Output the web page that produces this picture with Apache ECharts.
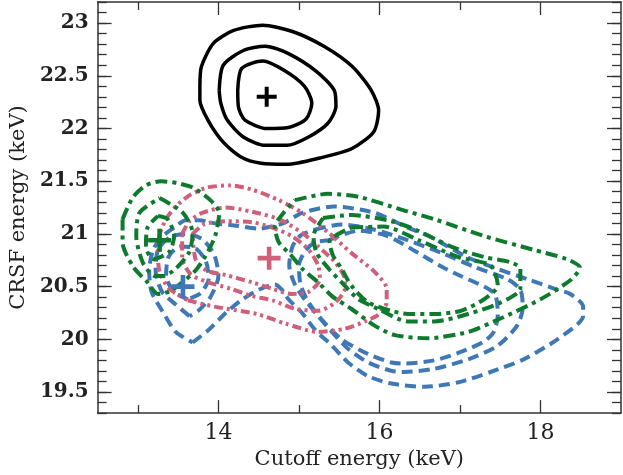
<!DOCTYPE html>
<html>
<head>
<meta charset="utf-8">
<script src="https://cdn.jsdelivr.net/npm/echarts@6/dist/echarts.min.js"></script>
<style>html,body{margin:0;padding:0;background:#fff}#c{width:623px;height:475px}</style>
</head>
<body>
<div id="c"></div>
<script>
// ---- axes ----
const xRange = [12.5, 19.0];
const yRange = [19.3, 23.2];
const xMajorTicks = [14, 16, 18];
const xMinorTicks = [13, 15, 17];
const yMajorTicks = [19.5, 20, 20.5, 21, 21.5, 22, 22.5, 23];
const xTitle = 'Cutoff energy (keV)';
const yTitle = 'CRSF energy (keV)';

// ---- black contours (solid) ----
const black1 = [[13.77,22.40],[13.79,22.59],[13.94,22.81],[14.19,22.93],[14.55,22.98],[14.92,22.92],[15.31,22.78],[15.66,22.59],[15.90,22.36],[15.99,22.17],[15.93,21.97],[15.66,21.81],[15.26,21.72],[14.85,21.66],[14.53,21.67],[14.28,21.73],[14.06,21.87],[13.87,22.08],[13.77,22.27]];
const black2 = [[14.01,22.36],[14.06,22.60],[14.31,22.74],[14.58,22.78],[14.87,22.71],[15.22,22.54],[15.44,22.36],[15.46,22.21],[15.36,22.05],[15.12,21.92],[14.85,21.84],[14.58,21.84],[14.31,21.92],[14.11,22.08],[14.03,22.24]];
const black3 = [[14.24,22.36],[14.29,22.57],[14.55,22.64],[14.82,22.55],[15.07,22.40],[15.16,22.24],[15.09,22.09],[14.87,22.01],[14.60,22.00],[14.33,22.08],[14.25,22.20]];

// ---- pink contours (dash-dot-dot) ----
const pink1 = [[13.62,20.37],[13.95,20.31],[14.48,20.24],[14.83,20.15],[15.24,20.07],[15.57,20.10],[15.82,20.17],[15.98,20.23],[16.09,20.35],[16.09,20.48],[15.94,20.64],[15.65,20.82],[15.37,21.01],[15.04,21.20],[14.75,21.32],[14.42,21.42],[14.15,21.46],[13.86,21.44],[13.65,21.37],[13.47,21.26],[13.35,21.14],[13.27,20.99],[13.25,20.79],[13.27,20.64],[13.39,20.48]];
const pink2 = [[13.55,21.00],[13.64,21.12],[13.80,21.20],[14.09,21.25],[14.42,21.21],[14.75,21.14],[15.04,21.01],[15.24,20.88],[15.45,20.73],[15.57,20.57],[15.57,20.48],[15.45,20.35],[15.24,20.27],[14.95,20.29],[14.67,20.37],[14.42,20.41],[14.15,20.48],[13.84,20.55],[13.65,20.62],[13.55,20.78]];
const pink3 = [[13.68,21.00],[13.82,21.09],[14.09,21.12],[14.42,21.11],[14.67,21.06],[14.91,20.98],[15.12,20.85],[15.24,20.70],[15.26,20.57],[15.12,20.45],[14.91,20.43],[14.67,20.48],[14.42,20.54],[14.09,20.61],[13.86,20.65],[13.72,20.75]];

// ---- green contours (dash-dot) ----
const greenL1 = [[12.81,21.14],[12.94,21.35],[13.10,21.46],[13.29,21.50],[13.50,21.48],[13.68,21.44],[13.90,21.32],[14.01,21.20],[13.96,20.98],[13.84,20.79],[13.70,20.64],[13.41,20.46],[13.25,20.43],[13.12,20.54],[12.94,20.69],[12.81,20.92]];
const greenL2 = [[13.27,21.34],[13.56,21.20],[13.68,21.01],[13.64,20.83],[13.47,20.67],[13.31,20.60],[13.21,20.60],[13.06,20.73],[12.98,20.98],[13.02,21.20]];
const greenL3 = [[13.25,21.17],[13.37,21.14],[13.45,20.98],[13.39,20.83],[13.19,20.76],[13.10,20.88],[13.12,21.06]];
const greenR1 = [[14.95,21.32],[15.36,21.38],[15.75,21.35],[16.27,21.23],[16.68,21.14],[17.30,20.98],[17.91,20.85],[18.33,20.76],[18.49,20.68],[18.37,20.56],[18.00,20.38],[17.51,20.20],[17.10,20.07],[16.60,20.01],[16.19,20.04],[15.94,20.13],[15.65,20.29],[15.41,20.41],[15.24,20.54],[15.04,20.67],[14.90,20.80],[14.75,20.92],[14.70,21.07],[14.81,21.20]];
const greenR2 = [[15.30,21.15],[15.65,21.18],[16.15,21.12],[16.45,21.04],[16.89,20.88],[17.30,20.78],[17.63,20.73],[17.75,20.67],[17.75,20.48],[17.51,20.35],[17.10,20.24],[16.68,20.17],[16.35,20.17],[15.98,20.29],[15.74,20.38],[15.53,20.54],[15.37,20.67],[15.22,20.82],[15.18,20.98]];
const greenR3 = [[15.65,21.06],[16.05,21.07],[16.49,20.94],[16.98,20.78],[17.38,20.70],[17.47,20.51],[17.30,20.38],[17.01,20.27],[16.68,20.24],[16.35,20.24],[16.15,20.27],[15.86,20.35],[15.65,20.51],[15.53,20.67],[15.42,20.80],[15.38,20.93]];

// ---- blue contours (dashed) ----
const blue1 = [[13.68,19.97],[13.88,20.09],[14.09,20.25],[14.30,20.38],[14.50,20.47],[14.70,20.52],[14.79,20.47],[14.87,20.38],[15.04,20.25],[15.20,20.09],[15.41,19.94],[15.61,19.78],[15.86,19.65],[16.15,19.58],[16.56,19.55],[16.97,19.59],[17.38,19.69],[17.79,19.81],[18.21,20.00],[18.53,20.22],[18.53,20.31],[18.37,20.43],[18.21,20.47],[17.84,20.57],[17.42,20.68],[17.09,20.78],[16.64,20.97],[16.35,21.06],[15.94,21.20],[15.44,21.26],[15.04,21.20],[14.80,21.10],[14.50,21.05],[14.20,21.08],[13.96,21.10],[13.76,21.13],[13.59,21.13],[13.47,21.07],[13.31,20.98],[13.19,20.85],[13.14,20.65],[13.17,20.45],[13.31,20.26],[13.47,20.07]];
const blue2L = [[13.64,20.22],[13.47,20.33],[13.30,20.45],[13.22,20.65],[13.25,20.85],[13.40,20.97],[13.60,21.00],[13.80,20.95],[13.95,20.80],[14.00,20.60],[13.90,20.40],[13.75,20.27]];
const blue3L = [[13.62,20.38],[13.45,20.45],[13.35,20.60],[13.38,20.78],[13.52,20.88],[13.70,20.87],[13.84,20.75],[13.88,20.58],[13.78,20.44]];
const blue2R = [[15.20,21.04],[15.53,21.09],[15.94,21.04],[16.35,20.94],[16.77,20.82],[17.17,20.69],[17.59,20.57],[17.75,20.47],[17.78,20.30],[17.71,20.13],[17.47,19.94],[17.10,19.81],[16.68,19.72],[16.31,19.69],[16.15,19.70],[15.86,19.78],[15.61,19.91],[15.41,20.07],[15.24,20.22],[15.07,20.38],[14.95,20.52],[14.88,20.70],[14.92,20.88],[15.03,20.99]];
const blue3R = [[15.37,20.94],[15.74,21.03],[16.10,20.98],[16.48,20.82],[16.77,20.69],[17.01,20.60],[17.30,20.50],[17.44,20.42],[17.47,20.23],[17.42,20.07],[17.30,19.98],[17.01,19.88],[16.68,19.80],[16.31,19.77],[16.15,19.78],[15.86,19.86],[15.53,20.00],[15.28,20.19],[15.12,20.35],[15.02,20.52],[15.00,20.70],[15.08,20.84],[15.20,20.92]];

// ---- best-fit crosses ----
const bestBlack = [14.60, 22.30];
const bestPink = [14.63, 20.77];
const bestGreen = [13.27, 20.94];
const bestBlue = [13.56, 20.50];

const C = { black:'#000000', pink:'#d0607a', green:'#0e7a2e', blue:'#3f78b6' };
const DASH = { black:'solid', pink:[9,4,3,4,3,4], green:[12,5,4,5], blue:[11,6] };

function loop(pts){ return pts.concat([pts[0]]); }
function contour(pts, key, w){
  return { type:'line', data: loop(pts), symbol:'none', smooth:0.25, silent:true,
    lineStyle:{ color:C[key], width:w, type:DASH[key], cap:'butt', join:'round' }, z:3 };
}
const PLUS = 'path://M0.40,0 L0.60,0 L0.60,0.40 L1,0.40 L1,0.60 L0.60,0.60 L0.60,1 L0.40,1 L0.40,0.60 L0,0.60 L0,0.40 L0.40,0.40 Z';
function cross(p, key, size){
  return { type:'scatter', data:[p], symbol:PLUS, symbolSize:size, silent:true,
    itemStyle:{ color:C[key], opacity:1 }, z:5 };
}

const series = [
  contour(blue1,'blue',4), contour(blue2L,'blue',4), contour(blue3L,'blue',4),
  contour(blue2R,'blue',4), contour(blue3R,'blue',4),
  contour(pink1,'pink',4), contour(pink2,'pink',4), contour(pink3,'pink',4),
  contour(greenL1,'green',4), contour(greenL2,'green',4), contour(greenL3,'green',4),
  contour(greenR1,'green',4), contour(greenR2,'green',4), contour(greenR3,'green',4),
  contour(black1,'black',3.5), contour(black2,'black',3.5), contour(black3,'black',3.5),
  cross(bestBlack,'black',20), cross(bestPink,'pink',23), cross(bestGreen,'green',23), cross(bestBlue,'blue',23)
];

const FONT = 'DejaVu Serif';
const axisLineStyle = { show:true, lineStyle:{ color:'#333', width:1.5 } };
const tickStyle = { color:'#333', width:1.3 };
function xAx(pos, major, showLine, showLabel){
  return {
    type:'value', position:pos, min:xRange[0], max:xRange[1],
    axisLine: showLine ? axisLineStyle : {show:false},
    splitLine:{show:false},
    axisTick:{ show:true, inside:true, length: major?13:8, lineStyle:tickStyle, customValues: major?xMajorTicks:xMinorTicks },
    axisLabel: showLabel ? { show:true, customValues:xMajorTicks, margin:9, fontFamily:FONT, fontSize:22, color:'#222' } : {show:false},
    name: showLabel ? xTitle : '', nameLocation:'middle', nameGap:35,
    nameTextStyle:{ fontFamily:FONT, fontSize:21, color:'#222' }
  };
}
function yAx(pos, major, showLine, showLabel){
  const a = {
    type:'value', position:pos, min:yRange[0], max:yRange[1],
    axisLine: showLine ? axisLineStyle : {show:false},
    splitLine:{show:false},
    axisTick:{ show:true, inside:true, length: major?14:9, lineStyle:tickStyle },
    axisLabel: showLabel ? { show:true, customValues:yMajorTicks, margin:9, fontFamily:FONT, fontSize:20, fontWeight:'bold', color:'#222' } : {show:false},
    name: showLabel ? yTitle : '', nameLocation:'middle', nameGap:64, nameRotate:90,
    nameTextStyle:{ fontFamily:FONT, fontSize:21, color:'#222' }
  };
  if (major) a.axisTick.customValues = yMajorTicks; else a.interval = 0.1;
  return a;
}

const chart = echarts.init(document.getElementById('c'), null, {renderer:'canvas'});
chart.setOption({
  animation:false,
  backgroundColor:'#ffffff',
  grid:{ left:95, right:2, top:2, bottom:60, containLabel:false },
  xAxis:[ xAx('bottom',true,true,true), xAx('bottom',false,false,false), xAx('top',true,true,false), xAx('top',false,false,false) ],
  yAxis:[ yAx('left',true,true,true), yAx('left',false,false,false), yAx('right',true,true,false), yAx('right',false,false,false) ],
  series: series
});
</script>
</body>
</html>
